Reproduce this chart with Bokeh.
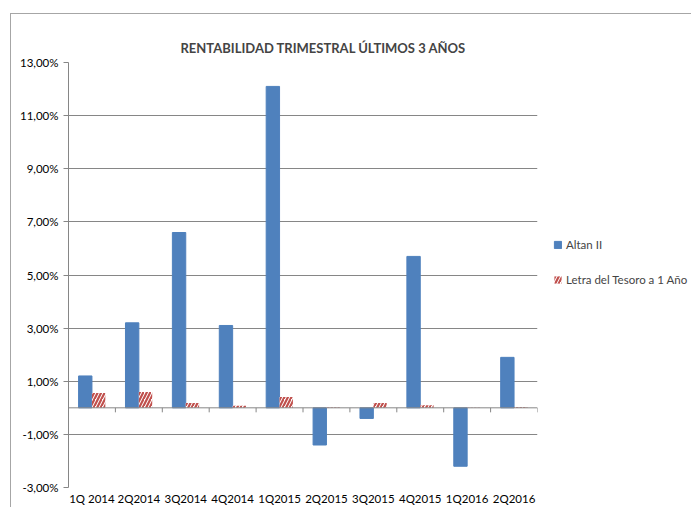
from bokeh.plotting import figure
from bokeh.models import (ColumnDataSource, FixedTicker, CustomJSTickFormatter, Span,
                          Legend, LegendItem, Range1d)
from bokeh.transform import dodge
from bokeh.embed import file_html
from bokeh.resources import INLINE

quarters = ["1Q 2014", "2Q2014", "3Q2014", "4Q2014", "1Q2015",
            "2Q2015", "3Q2015", "4Q2015", "1Q2016", "2Q2016"]
altan = [1.2, 3.2, 6.6, 3.1, 12.1, -1.4, -0.4, 5.7, -2.2, 1.9]
letra = [0.56, 0.60, 0.18, 0.08, 0.41, 0.02, 0.18, 0.10, 0.01, 0.03]
y_ticks = [-3, -1, 1, 3, 5, 7, 9, 11, 13]
title_text = "RENTABILIDAD TRIMESTRAL ÚLTIMOS 3 AÑOS"
series_names = ["Altan II", "Letra del Tesoro a 1 Año"]

FONT = "Lato"
GREY = "#868686"
BLUE = "#4F81BD"
RED = "#C0504D"

src = ColumnDataSource(dict(q=quarters, altan=altan, letra=letra,
                            zero=[0] * len(quarters),
                            tick=[-0.17] * len(quarters)))

p = figure(x_range=quarters, y_range=Range1d(y_ticks[0], y_ticks[-1]),
           frame_width=469, frame_height=425, output_backend="svg", toolbar_location=None,
           min_border_left=57, min_border_right=152, min_border_top=48,
           min_border_bottom=18, background_fill_color="white",
           border_fill_color="white", outline_line_color=None)
p.styles = {"margin-left": "10px", "margin-top": "13px",
            "border-left": "1px solid #a6a6a6", "border-top": "1px solid #a6a6a6"}

p.title.text = title_text
p.title.text_font = FONT
p.title.text_font_size = "13px"
p.title.text_font_style = "bold"
p.title.align = "left"
p.title.offset = 112
p.title.standoff = 14

bw = 0.285
r1 = p.vbar(x=dodge("q", -bw / 2, range=p.x_range), top="altan", bottom="zero",
            width=bw, source=src, fill_color=BLUE, line_color=BLUE)
r2 = p.vbar(x=dodge("q", bw / 2, range=p.x_range), top="letra", bottom="zero",
            width=bw, source=src, fill_color="white", line_color=None,
            hatch_pattern="right_diagonal_line", hatch_color=RED, hatch_scale=7,
            hatch_weight=2.2)

p.add_layout(Span(location=0, dimension="width", line_color=GREY, line_width=1))
p.segment(x0=dodge("q", 0.5, range=p.x_range), x1=dodge("q", 0.5, range=p.x_range),
          y0="zero", y1="tick", source=src, line_color=GREY, line_width=1)

p.yaxis.ticker = FixedTicker(ticks=y_ticks)
p.yaxis.formatter = CustomJSTickFormatter(
    code="return tick.toFixed(2).replace('.', ',') + '%';")
p.yaxis.axis_line_color = GREY
p.yaxis.major_tick_line_color = GREY
p.yaxis.major_tick_out = 5
p.yaxis.major_tick_in = 0
p.yaxis.minor_tick_line_color = None
p.yaxis.major_label_standoff = 5
p.yaxis.major_label_text_font = FONT
p.yaxis.major_label_text_font_size = "11.5px"
p.yaxis.major_label_text_color = "black"

p.xaxis.axis_line_color = None
p.xaxis.major_tick_line_color = None
p.xaxis.major_tick_out = 0
p.xaxis.major_tick_in = 0
p.xaxis.major_label_standoff = 4
p.xaxis.major_label_text_font = FONT
p.xaxis.major_label_text_font_size = "11.5px"
p.xaxis.major_label_text_color = "black"

p.xgrid.grid_line_color = None
p.ygrid.grid_line_color = GREY
p.ygrid.ticker = FixedTicker(ticks=y_ticks)

legend = Legend(items=[LegendItem(label=series_names[0], renderers=[r1]),
                       LegendItem(label=series_names[1], renderers=[r2])],
                location=(16, 201), border_line_color=None,
                background_fill_alpha=0, padding=0, margin=0,
                glyph_width=9, glyph_height=9, label_standoff=4, spacing=22,
                label_text_font=FONT, label_text_font_size="11.5px")
p.add_layout(legend, "right")

open("out.html", "w").write(file_html(p, INLINE))
